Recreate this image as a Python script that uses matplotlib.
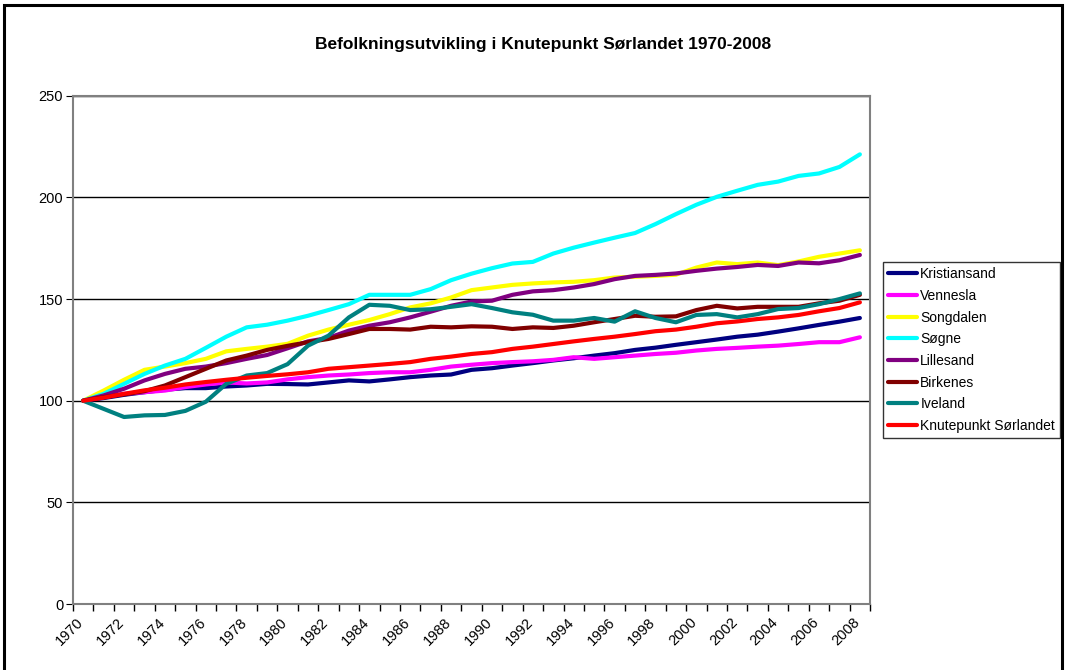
import matplotlib
matplotlib.use("Agg")
from matplotlib import pyplot as plt
from matplotlib.patches import Rectangle
from matplotlib.transforms import ScaledTranslation

plt.rcParams['font.family'] = ['Liberation Sans', 'DejaVu Sans']

years = list(range(1970, 2009))

kristiansand = [100, 101.3, 102.9, 104.2, 105.4, 106.2, 106.2, 107.0, 107.5, 108.3,
                108.2, 108.0, 109.0, 110.0, 109.5, 110.5, 111.6, 112.4, 112.9, 115.2,
                116.0, 117.3, 118.5, 119.8, 120.9, 122.2, 123.4, 125.0, 126.1, 127.5,
                128.8, 130.1, 131.5, 132.5, 134.0, 135.6, 137.3, 138.9, 140.7]
vennesla = [100, 101.8, 103.4, 104.2, 105.0, 106.7, 108.0, 109.0, 108.5, 109.0,
            110.5, 111.6, 112.4, 112.9, 113.6, 114.0, 114.0, 115.2, 116.8, 117.7,
            118.5, 119.0, 119.4, 120.1, 121.4, 120.6, 121.4, 122.2, 123.0, 123.6,
            124.7, 125.5, 126.0, 126.6, 127.1, 127.9, 128.8, 128.8, 131.2]
songdalen = [100, 105.0, 110.3, 115.2, 116.8, 118.5, 120.6, 124.3, 125.5, 126.6,
             128.0, 132.0, 135.0, 137.4, 139.7, 142.6, 145.9, 147.9, 150.8, 154.4,
             155.7, 157.0, 157.7, 158.2, 158.5, 159.3, 160.6, 161.0, 161.4, 162.0,
             165.5, 168.0, 167.2, 168.0, 166.7, 168.5, 170.8, 172.4, 174.0]
sogne = [100, 103.4, 108.3, 113.2, 117.3, 120.6, 126.0, 131.5, 136.1, 137.4,
         139.4, 141.8, 144.6, 147.5, 152.1, 152.1, 152.1, 154.9, 159.3, 162.5,
         165.2, 167.5, 168.3, 172.4, 175.3, 177.8, 180.2, 182.5, 186.9, 191.8,
         196.4, 200.3, 203.3, 206.2, 207.8, 210.6, 211.8, 215.0, 221.2]
lillesand = [100, 102.6, 105.9, 110.0, 113.2, 115.7, 116.8, 118.5, 120.6, 122.5,
             125.8, 129.2, 130.9, 134.5, 136.9, 138.6, 141.0, 143.8, 146.7, 148.8,
             149.2, 152.1, 153.8, 154.4, 155.7, 157.4, 159.8, 161.4, 161.9, 162.6,
             163.9, 165.0, 165.8, 166.8, 166.3, 168.0, 167.6, 169.1, 171.7]
birkenes = [100, 101.8, 103.1, 104.7, 107.5, 111.6, 115.7, 119.8, 122.2, 125.0,
            127.0, 128.8, 130.4, 132.8, 135.3, 135.3, 135.0, 136.4, 136.1, 136.6,
            136.4, 135.3, 136.1, 135.8, 136.9, 138.6, 140.2, 141.8, 141.3, 141.5,
            144.6, 146.7, 145.4, 146.2, 146.2, 146.2, 147.9, 149.2, 152.1]
iveland = [100, 96.0, 92.0, 92.8, 93.0, 95.0, 99.5, 108.3, 112.4, 113.6,
           118.0, 127.1, 132.0, 141.0, 147.2, 146.7, 144.6, 145.0, 146.2, 147.5,
           145.6, 143.5, 142.3, 139.4, 139.4, 140.7, 138.9, 144.0, 140.7, 138.6,
           142.2, 142.6, 141.0, 142.6, 145.1, 145.6, 147.5, 150.0, 152.8]
knutepunkt = [100, 101.5, 103.4, 105.1, 106.4, 108.0, 109.2, 110.3, 111.3, 112.2,
              113.0, 114.0, 115.7, 116.5, 117.3, 118.1, 119.0, 120.6, 121.7, 123.0,
              123.9, 125.5, 126.6, 127.9, 129.2, 130.4, 131.5, 132.8, 134.2, 135.0,
              136.4, 138.1, 139.0, 140.2, 141.0, 142.2, 144.0, 145.6, 148.4]

names = ['Kristiansand', 'Vennesla', 'Songdalen', 'Søgne', 'Lillesand',
         'Birkenes', 'Iveland', 'Knutepunkt Sørlandet']
series = [kristiansand, vennesla, songdalen, sogne, lillesand, birkenes, iveland, knutepunkt]
colors = ['#000080', '#FF00FF', '#FFFF00', '#00FFFF', '#800080', '#800000', '#008080', '#FF0000']

fig = plt.figure(figsize=(10.65, 6.7), dpi=100)
ax = fig.add_axes([0.0685, 0.0985, 0.7485, 0.7585])

x = list(range(len(years)))
for vals, name, c in zip(series, names, colors):
    ax.plot(x, vals, color=c, linewidth=3.0, label=name, solid_capstyle='round')

ax.set_xlim(-0.5, len(years) - 0.5)
ax.set_ylim(0, 250)
ax.set_yticks([0, 50, 100, 150, 200, 250])
ax.yaxis.grid(True, color='black', linewidth=1)
ax.set_axisbelow(True)

ax.set_xticks([i - 0.5 for i in range(len(years) + 1)])
ax.set_xticklabels([])
ax.set_xticks(x[::2], minor=True)
ax.set_xticklabels([str(y) for y in years[::2]], minor=True, rotation=45,
                   ha='right', va='top', rotation_mode='anchor', fontsize=10.5)
ax.tick_params(axis='x', which='minor', length=0, pad=8)
ax.tick_params(axis='x', which='major', length=5, color='#000000', width=1, direction='out')
ax.tick_params(axis='y', length=5, labelsize=10.5, direction='out', pad=2)
shift = ScaledTranslation(-7 / 100, 0, fig.dpi_scale_trans)
for lbl in ax.get_xticklabels(minor=True):
    lbl.set_transform(lbl.get_transform() + shift)

for s in ax.spines.values():
    s.set_color('#808080')
    s.set_linewidth(1.5)

fig.text(543 / 1065, 1 - 44 / 670, 'Befolkningsutvikling i Knutepunkt Sørlandet 1970-2008',
         fontsize=12.5, fontweight='bold', ha='center', va='center')

leg = ax.legend(loc='upper left', bbox_to_anchor=(1.016, 0.672), frameon=True,
                fancybox=False, edgecolor='black', fontsize=10, handlelength=2.1,
                handletextpad=0.25, labelspacing=0.55, borderpad=0.35, borderaxespad=0)
leg.get_frame().set_linewidth(1)

fig.patches.append(Rectangle((4 / 1065, -0.02), 1058 / 1065, 1.02 - 5 / 670,
                             transform=fig.transFigure, fill=False,
                             edgecolor='black', linewidth=2.2))

fig.savefig('out.png', dpi=100)
